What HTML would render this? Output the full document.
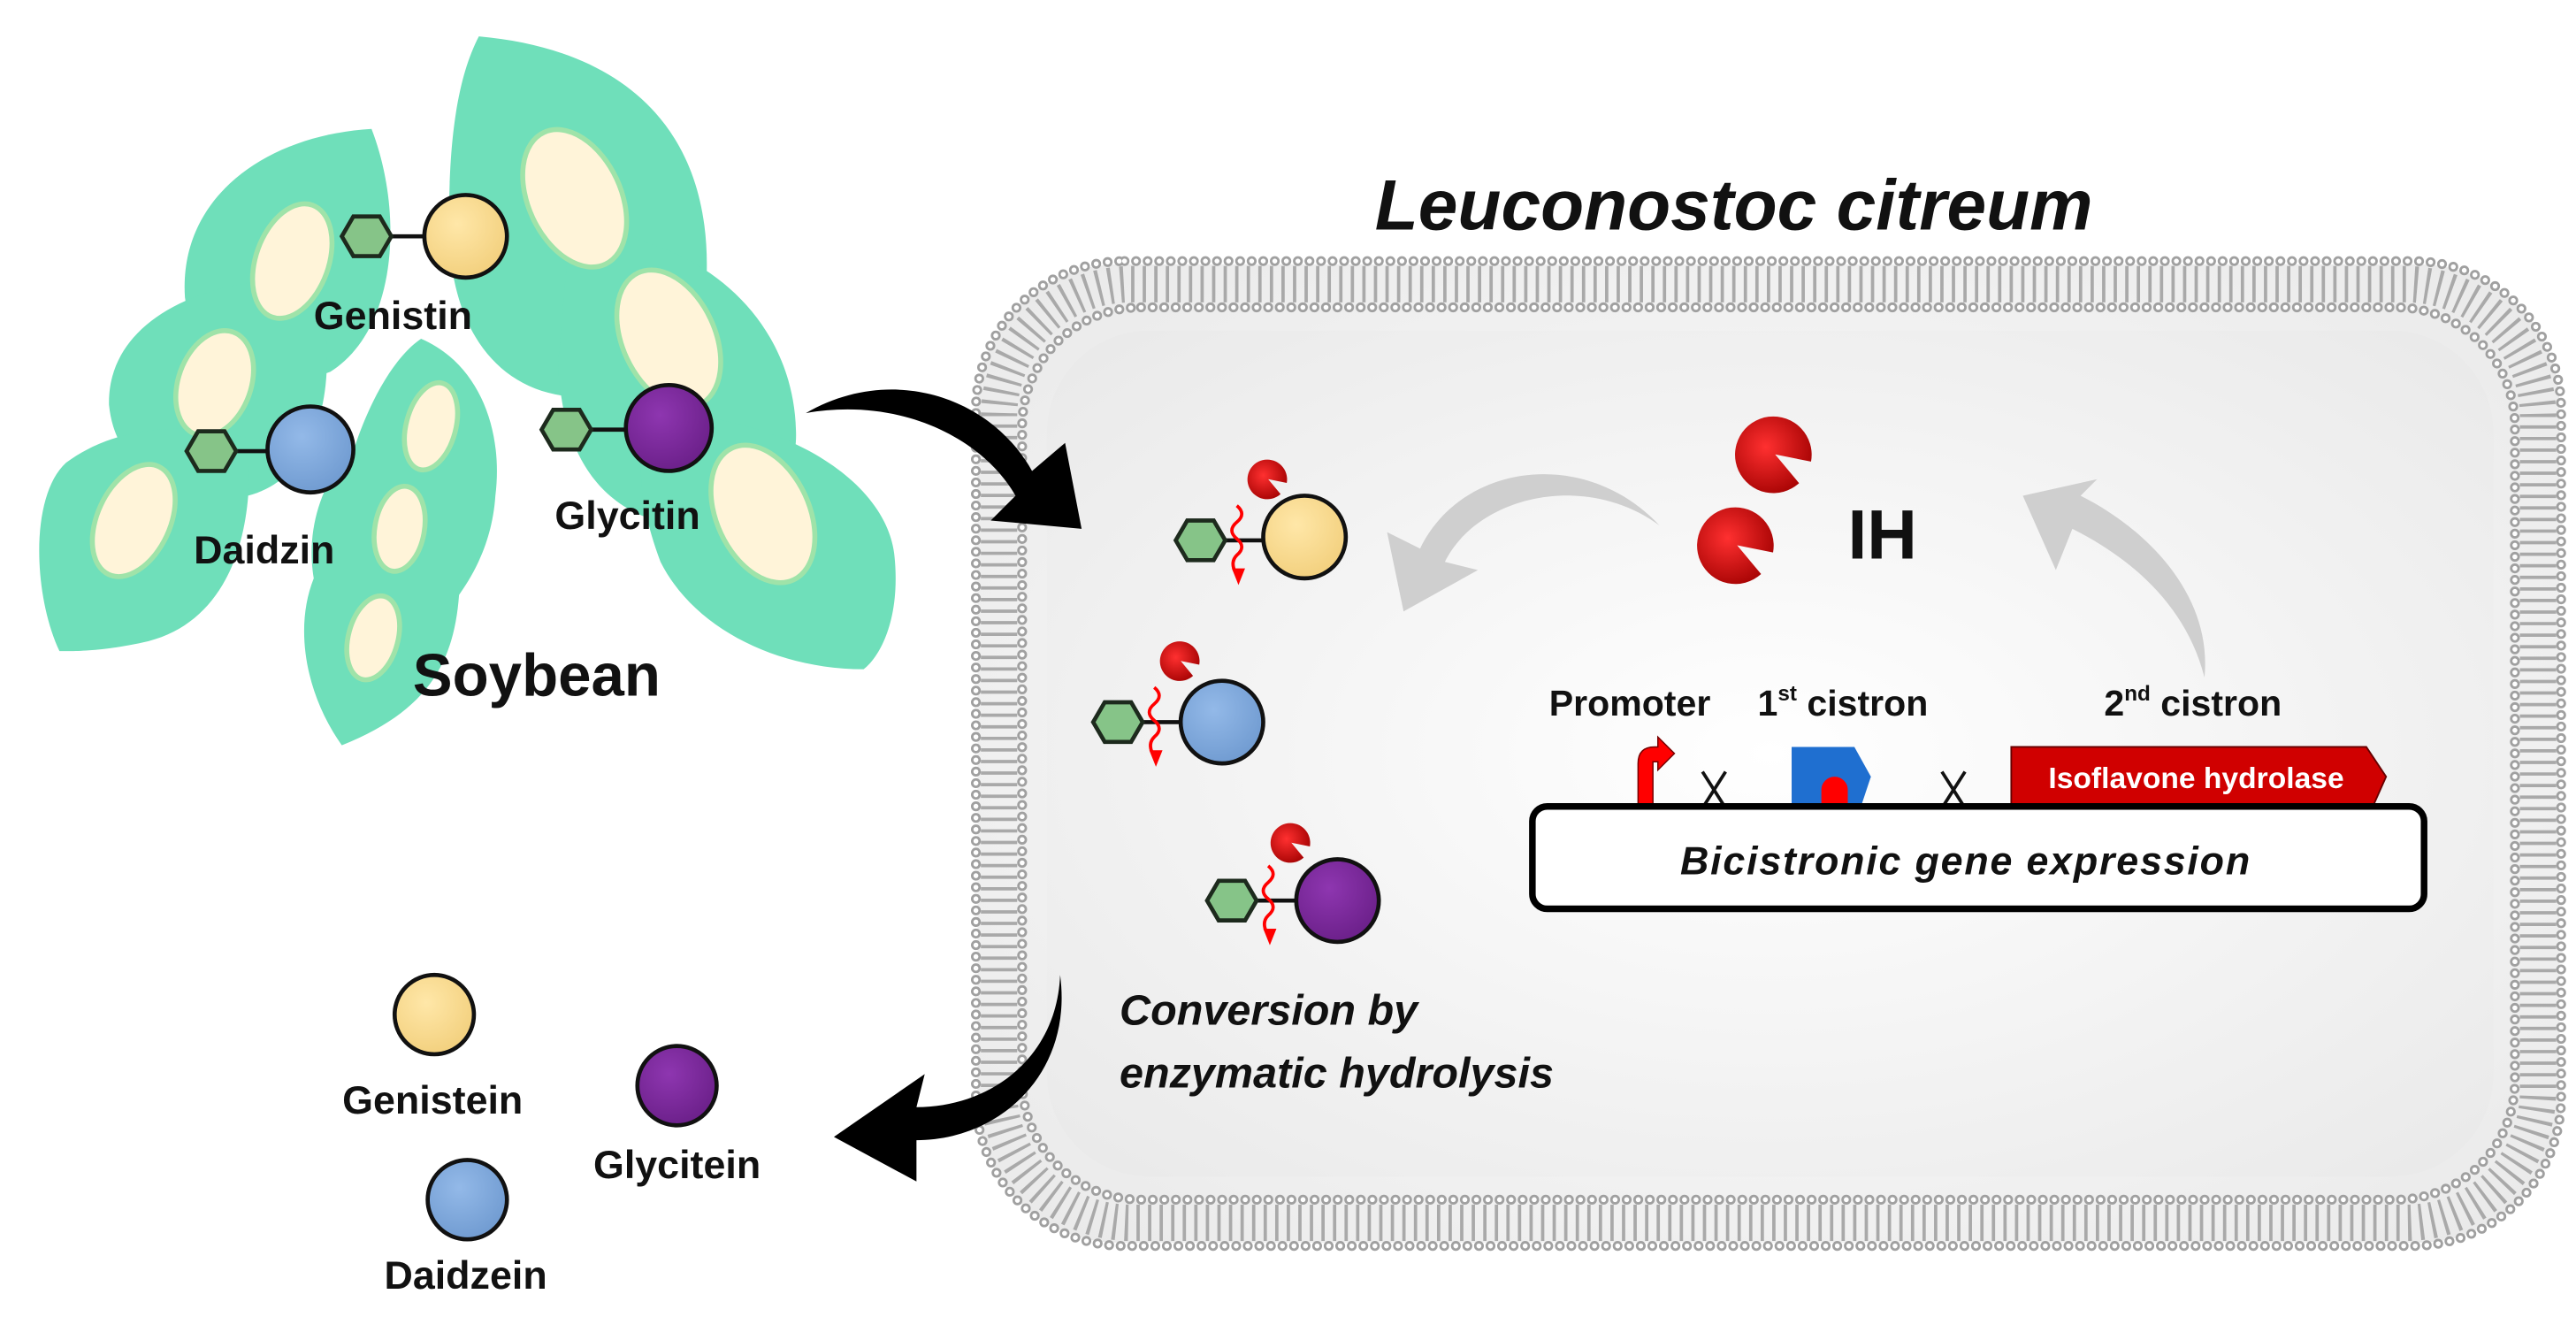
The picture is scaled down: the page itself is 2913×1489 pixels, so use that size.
<!DOCTYPE html>
<html><head><meta charset="utf-8"><style>html,body{margin:0;padding:0;background:#fff}svg{display:block}</style></head>
<body>
<svg width="2913" height="1489" viewBox="0 0 1560 797" preserveAspectRatio="none" xmlns="http://www.w3.org/2000/svg" font-family="Liberation Sans, Arial, sans-serif">
<defs>
<radialGradient id="bg" cx="0.5" cy="0.5" r="0.7"><stop offset="0" stop-color="#ffffff"/><stop offset="1" stop-color="#e9e9e9"/></radialGradient>
<radialGradient id="gy" cx="0.4" cy="0.35" r="0.7"><stop offset="0" stop-color="#ffe7a8"/><stop offset="1" stop-color="#f2cf7c"/></radialGradient>
<radialGradient id="gb" cx="0.4" cy="0.35" r="0.7"><stop offset="0" stop-color="#93b9e8"/><stop offset="1" stop-color="#6f9ad0"/></radialGradient>
<radialGradient id="gp" cx="0.4" cy="0.35" r="0.7"><stop offset="0" stop-color="#8e36b0"/><stop offset="1" stop-color="#6a1f88"/></radialGradient>
<radialGradient id="gr" cx="0.4" cy="0.4" r="0.7"><stop offset="0" stop-color="#ff3030"/><stop offset="1" stop-color="#a00000"/></radialGradient>
<g id="hex"><polygon points="-15,0 -8,-12 8,-12 15,0 8,12 -8,12" fill="#86c488" stroke="#1d2a1d" stroke-width="2.5"/></g>
<g id="pac"><path d="M0,0 L10,12 A16,16 0 1 1 15,3 Z" fill="url(#gr)"/></g>
<g id="wave"><path d="M-3,-24 q6,5 0,10 q-6,5 0,10 q6,5 0,10 q-4,4 -1,10" fill="none" stroke="#f00" stroke-width="2"/><polygon points="-6,14 2,14 -2,24" fill="#f00"/></g>
</defs>

<g fill="#6fdfba">
<path d="M290,22 C380,30 430,80 428,165 C425,225 390,245 345,240 C295,235 270,190 272,130 C272,80 278,45 290,22 Z"/>
<path d="M345,140 C420,140 480,190 482,260 C484,300 450,320 410,318 C360,310 340,270 338,220 Z"/>
<path d="M395,250 C470,250 540,290 542,340 C545,380 530,400 523,405 C470,405 420,380 400,340 C385,300 385,270 395,250 Z"/>
<path d="M225,78 C245,130 240,200 200,225 C160,240 118,225 112,180 C108,120 160,82 225,78 Z"/>
<path d="M195,185 C205,240 190,290 150,300 C105,305 70,285 66,245 C65,200 110,175 160,170 Z"/>
<path d="M150,265 C155,320 140,375 90,388 C60,395 40,394 36,394 C20,360 18,300 40,280 C70,258 110,255 150,265 Z"/>
<path d="M255,205 C290,220 305,260 300,300 C298,330 285,350 278,360 C275,400 260,430 207,451 C185,420 178,380 190,350 C185,320 195,290 215,270 C225,240 240,215 255,205 Z"/>
</g>
<g fill="#fff4d9" stroke="#9fe3a9" stroke-width="3">
<ellipse cx="348" cy="120" rx="28" ry="44" transform="rotate(-25 348 120)"/>
<ellipse cx="405" cy="205" rx="28" ry="44" transform="rotate(-25 405 205)"/>
<ellipse cx="462" cy="311" rx="28" ry="44" transform="rotate(-25 462 311)"/>
<ellipse cx="177" cy="158" rx="22" ry="36" transform="rotate(20 177 158)"/>
<ellipse cx="130" cy="232" rx="22" ry="33" transform="rotate(20 130 232)"/>
<ellipse cx="81" cy="315" rx="22" ry="36" transform="rotate(25 81 315)"/>
<ellipse cx="261" cy="258" rx="15" ry="27" transform="rotate(15 261 258)"/>
<ellipse cx="242" cy="320" rx="15" ry="26" transform="rotate(10 242 320)"/>
<ellipse cx="226" cy="386" rx="15" ry="26" transform="rotate(15 226 386)"/>
</g>
<g stroke="#111" stroke-width="2.5">
<line x1="222" y1="143" x2="258" y2="143"/><use href="#hex" x="222" y="143"/><circle cx="282" cy="143" r="25" fill="url(#gy)"/>
<line x1="128" y1="273" x2="165" y2="273"/><use href="#hex" x="128" y="273"/><circle cx="188" cy="272" r="26" fill="url(#gb)"/>
<line x1="343" y1="260" x2="380" y2="260"/><use href="#hex" x="343" y="260"/><circle cx="405" cy="259" r="26" fill="url(#gp)"/>
</g>
<g font-weight="bold" font-size="24" fill="#111" text-anchor="middle">
<text x="238" y="199">Genistin</text>
<text x="160" y="341">Daidzin</text>
<text x="380" y="320">Glycitin</text>
<text x="325" y="421" font-size="36">Soybean</text>
</g>

<text x="1050" y="139" font-size="43" font-weight="bold" font-style="italic" text-anchor="middle" fill="#111">Leuconostoc  citreum</text>
<rect x="592" y="160" width="958" height="592" rx="85" fill="url(#bg)"/>
<g fill="none">
<rect x="605" y="172" width="932" height="568" rx="80" stroke="#a9a9a9" stroke-width="22" stroke-dasharray="2 5"/>
<rect x="591" y="158" width="960" height="596" rx="90" stroke="#a0a0a0" stroke-width="6" stroke-dasharray="0 7" stroke-linecap="round"/>
<rect x="591" y="158" width="960" height="596" rx="90" stroke="#fff" stroke-width="3" stroke-dasharray="0 7" stroke-linecap="round"/>
<rect x="619" y="186" width="904" height="540" rx="72" stroke="#a0a0a0" stroke-width="6" stroke-dasharray="0 7" stroke-linecap="round"/>
<rect x="619" y="186" width="904" height="540" rx="72" stroke="#fff" stroke-width="3" stroke-dasharray="0 7" stroke-linecap="round"/>
</g>
<rect x="634" y="200" width="876" height="512" rx="62" fill="url(#bg)"/>

<path d="M1005,318 C960,285 895,300 875,340 L895,345 L850,370 L840,322 L860,332 C885,280 960,270 1005,318 Z" fill="#cfcfcf"/>
<path d="M1335,410 C1340,360 1300,320 1260,300 L1270,290 L1225,300 L1245,345 L1255,320 C1295,340 1325,370 1335,410 Z" fill="#cfcfcf"/>

<path d="M488,250 C540,220 600,240 625,285 L645,268 L655,320 L600,315 L615,300 C595,265 545,240 488,250 Z" fill="#000"/>
<path d="M642,590 C640,640 600,670 555,670 L560,650 L505,688 L555,715 L555,690 C605,690 650,650 642,590 Z" fill="#000"/>

<g stroke="#111" stroke-width="2.5">
<line x1="727" y1="327" x2="766" y2="327"/><use href="#hex" x="727" y="327"/><circle cx="790" cy="325" r="25" fill="url(#gy)"/>
<line x1="677" y1="437" x2="716" y2="437"/><use href="#hex" x="677" y="437"/><circle cx="740" cy="437" r="25" fill="url(#gb)"/>
<line x1="746" y1="545" x2="785" y2="545"/><use href="#hex" x="746" y="545"/><circle cx="810" cy="545" r="25" fill="url(#gp)"/>
</g>
<use href="#wave" x="752" y="330"/><use href="#wave" x="702" y="440"/><use href="#wave" x="771" y="548"/>
<use href="#pac" transform="translate(768,290) scale(0.75)"/>
<use href="#pac" transform="translate(715,400) scale(0.75)"/>
<use href="#pac" transform="translate(782,510) scale(0.75)"/>
<use href="#pac" transform="translate(1075,275) scale(1.45)"/>
<use href="#pac" transform="translate(1052,330) scale(1.45)"/>
<text x="1140" y="338" font-size="42" font-weight="bold" text-anchor="middle" fill="#111">IH</text>

<g font-weight="bold" font-size="22" fill="#111" text-anchor="middle">
<text x="987" y="433">Promoter</text>
<text x="1116" y="433">1<tspan font-size="13" dy="-9">st</tspan><tspan dy="9"> cistron</tspan></text>
<text x="1328" y="433">2<tspan font-size="13" dy="-9">nd</tspan><tspan dy="9"> cistron</tspan></text>
</g>
<path d="M992,488 L992,462 Q992,452 1002,452 L1004,452 L1004,446 L1014,456 L1004,466 L1004,461 L1001,461 L1001,488 Z" fill="#f00" stroke="#700" stroke-width="0.8"/>
<g stroke="#111" stroke-width="2"><line x1="1031" y1="467" x2="1045" y2="489"/><line x1="1045" y1="467" x2="1031" y2="489"/>
<line x1="1176" y1="467" x2="1190" y2="489"/><line x1="1190" y1="467" x2="1176" y2="489"/></g>
<path d="M1085,452 L1123,452 L1133,470 L1127,488 L1085,488 Z" fill="#1f6fd0"/>
<path d="M1103,488 L1103,478 A8,8 0 0 1 1119,478 L1119,488 Z" fill="#f00"/>
<path d="M1218,452 L1433,452 L1445,470 L1437,488 L1218,488 Z" fill="#d00000" stroke="#600" stroke-width="1"/>
<text x="1330" y="477" font-size="18" font-weight="bold" fill="#fff" text-anchor="middle">Isoflavone hydrolase</text>
<rect x="928" y="488" width="540" height="62" rx="9" fill="#fff" stroke="#000" stroke-width="4"/>
<text x="1190" y="529" font-size="24" font-weight="bold" font-style="italic" fill="#111" text-anchor="middle" textLength="345">Bicistronic gene expression</text>

<g font-size="26" font-weight="bold" font-style="italic" fill="#111">
<text x="678" y="620">Conversion  by</text>
<text x="678" y="658">enzymatic  hydrolysis</text>
</g>

<g stroke="#111" stroke-width="2.5">
<circle cx="263" cy="614" r="24" fill="url(#gy)"/>
<circle cx="410" cy="657" r="24" fill="url(#gp)"/>
<circle cx="283" cy="726" r="24" fill="url(#gb)"/>
</g>
<g font-weight="bold" font-size="24" fill="#111" text-anchor="middle">
<text x="262" y="674">Genistein</text>
<text x="410" y="713">Glycitein</text>
<text x="282" y="780">Daidzein</text>
</g>
</svg>
</body></html>
